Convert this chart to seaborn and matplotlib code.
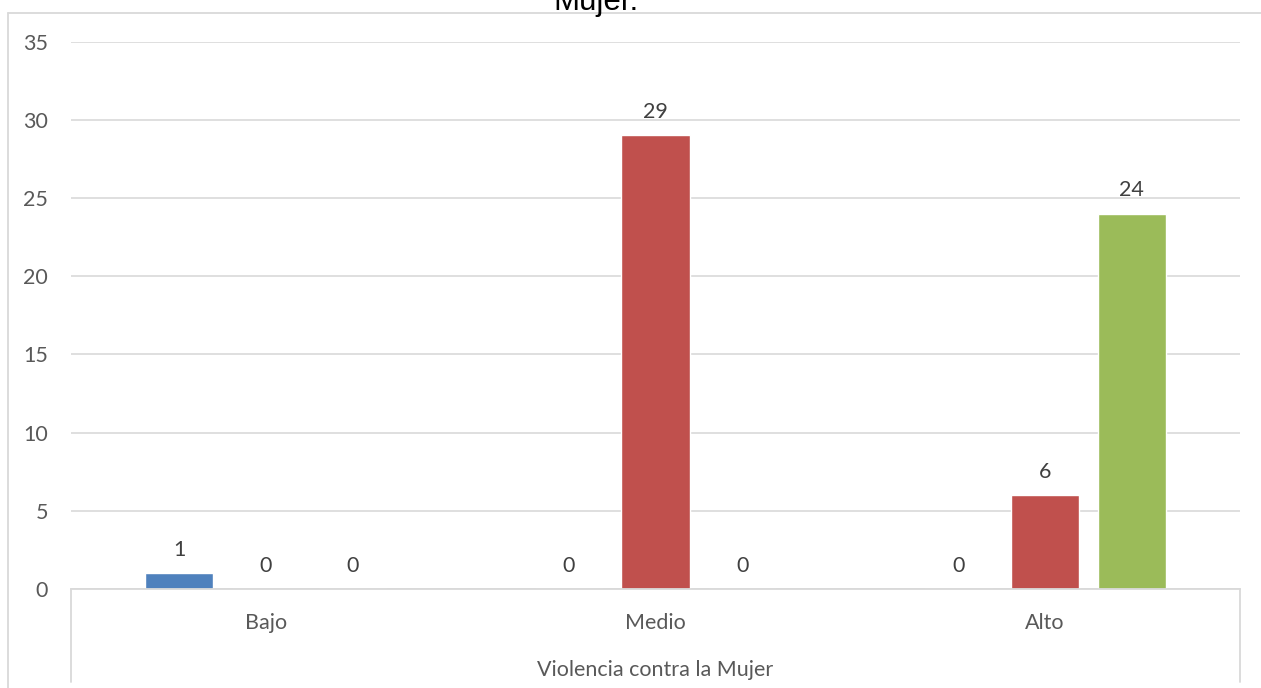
import matplotlib
matplotlib.use("Agg")
import matplotlib.pyplot as plt
import seaborn as sns
import pandas as pd
from matplotlib.lines import Line2D

# ---- data ----
categories = ["Bajo", "Medio", "Alto"]
series_names = ["Serie 1", "Serie 2", "Serie 3"]
serie1 = [1, 0, 0]
serie2 = [0, 29, 6]
serie3 = [0, 0, 24]
colors = ["#4F81BD", "#C0504D", "#9BBB59"]
yticks = [0, 5, 10, 15, 20, 25, 30, 35]
axis_title = "Violencia contra la Mujer"
title_tail = "Mujer."

df = pd.DataFrame({
    "categoria": categories * 3,
    "serie": [s for s in series_names for _ in categories],
    "valor": serie1 + serie2 + serie3,
})

sns.set_theme(style="white")
plt.rcParams["font.family"] = ["Lato", "DejaVu Sans"]

FS = 15.5
W, H = 1261, 688
fig = plt.figure(figsize=(W / 100, H / 100), dpi=100)
ax = fig.add_axes([71 / W, 1 - 589 / H, (1240 - 71) / W, (589 - 41.5) / H])

sns.barplot(data=df, x="categoria", y="valor", hue="serie", order=categories,
            hue_order=series_names, palette=colors, width=0.667, gap=0.21,
            saturation=1, legend=False, errorbar=None, ax=ax)

ax.set_xlim(-0.5, 2.5)
ax.set_ylim(0, 35)
ax.set_yticks(yticks)
ax.set_yticklabels([str(v) for v in yticks])
ax.yaxis.grid(True, color="#d9d9d9", lw=1.2)
ax.set_axisbelow(True)
for s in ["left", "right", "top"]:
    ax.spines[s].set_visible(False)
ax.spines["bottom"].set_color("#d9d9d9")
ax.spines["bottom"].set_linewidth(1.3)

ax.tick_params(axis="y", length=0, pad=16.5, labelsize=FS, labelcolor="#595959")
ax.tick_params(axis="x", length=0, pad=17.5, labelsize=FS, labelcolor="#595959")
ax.set_ylabel("")
ax.set_xlabel(axis_title, fontsize=FS, color="#595959", labelpad=19)

# data labels
for p in ax.patches:
    h = p.get_height()
    ax.annotate(f"{int(round(h))}", (p.get_x() + p.get_width() / 2, h),
                xytext=(0, 12.5), textcoords="offset points", ha="center",
                va="baseline", fontsize=FS, color="#404040")

# category-axis frame lines below the plot
for xx in (0, 1):
    ax.plot([xx, xx], [0, -0.17], transform=ax.transAxes, clip_on=False,
            color="#d9d9d9", lw=1.3)

# outer chart border
top_y = 1 - 12.5 / H
fig.add_artist(Line2D([8 / W, 1], [top_y, top_y], transform=fig.transFigure,
                      color="#d9d9d9", lw=1.3))
fig.add_artist(Line2D([8 / W, 8 / W], [0, top_y], transform=fig.transFigure,
                      color="#d9d9d9", lw=1.3))

# title (only its last line is visible in the crop)
fig.text(596.5 / W, 1 - 10 / H, title_tail, ha="center", va="baseline",
         fontsize=22.5, color="black", family=["Liberation Sans", "DejaVu Sans"])

fig.savefig("out.png", dpi=100)
